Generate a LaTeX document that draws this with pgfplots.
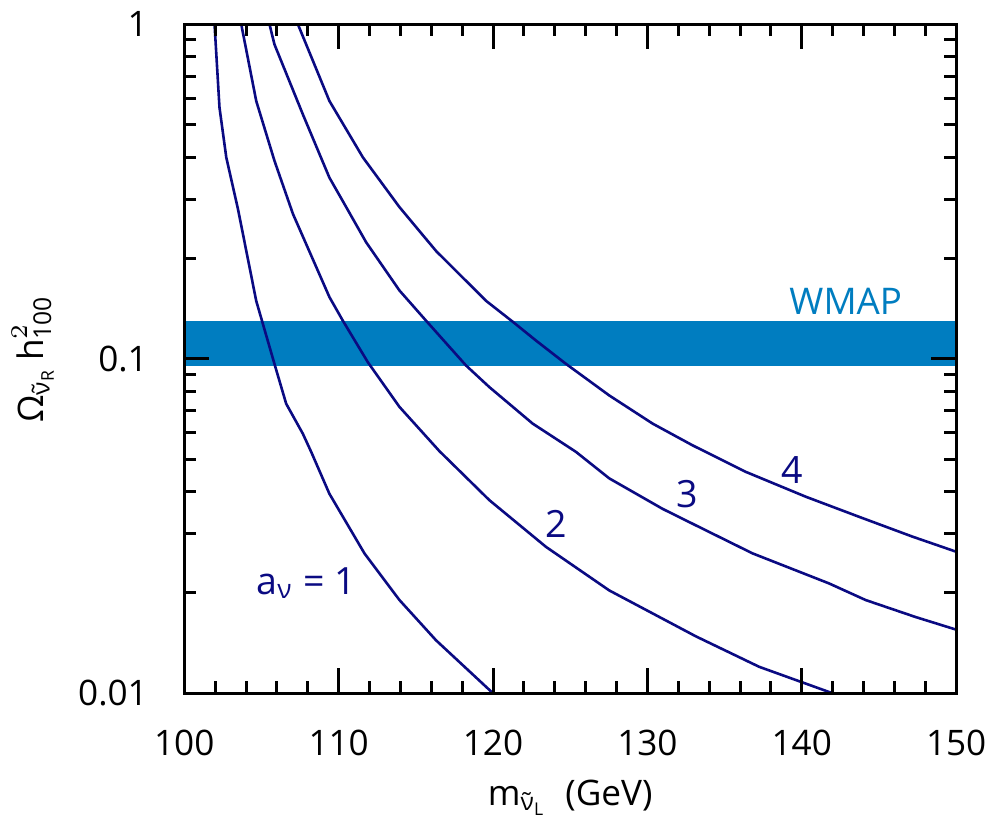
\documentclass[border=0pt]{standalone}
\usepackage{amsmath}
\usepackage{fontspec}
\setmainfont{Open Sans}
\usepackage{pgfplots}
\pgfplotsset{compat=1.18}
\definecolor{curve}{HTML}{0A0A82}
\definecolor{wmap}{HTML}{007DC0}

\begin{document}
\fontsize{8.8}{10}\selectfont
\begin{tikzpicture}
\begin{axis}[
  width=193.25pt, height=167.5pt, scale only axis,
  xmin=100, xmax=150, ymin=0.01, ymax=1,
  ymode=log,
  xtick={100,110,...,150}, xticklabels={100,110,120,130,140,150},
  minor x tick num=4,
  ytick={0.01,0.1,1}, yticklabels={0.01,0.1,1},
  minor ytick={0.02,0.03,0.04,0.05,0.06,0.07,0.08,0.09,0.2,0.3,0.4,0.5,0.6,0.7,0.8,0.9},
  tick pos=both, tick align=inside,
  major tick length=6.25pt, minor tick length=3pt,
  every tick/.style={black, line width=0.75pt},
  axis line style={line width=0.8pt},
  xticklabel shift=6pt, yticklabel shift=6pt,
  ticklabel style={font=\fontsize{8.8}{10}\selectfont},
  label style={font=\fontsize{8.8}{10}\selectfont},
  xlabel={$\text{m}_{\text{\~{ν}}_{\text{L}}}$\ \ (GeV)},
  ylabel={$\text{Ω}_{\text{\~{ν}}_{\text{R}}}\,\text{h}^{2}_{\text{100}}$},
  axis on top,
  line/.style={curve, no markers, line width=0.65pt},
]
% WMAP band
\addplot[fill=wmap, draw=none, no markers] coordinates {(100,0.095)(150,0.095)(150,0.13)(100,0.13)} -- cycle;

% a = 1
\addplot[line] coordinates {(101.96,1.0)(102.28,0.564)(102.72,0.400)(103.48,0.280)(104.66,0.149)(105.84,0.0966)(106.6,0.0734)(107.68,0.0597)(108.22,0.0527)(109.40,0.0395)(111.67,0.0262)(113.94,0.0190)(116.31,0.0144)(120.0,0.0100)};
% a = 2
\addplot[line] coordinates {(103.69,1.0)(104.66,0.590)(105.84,0.391)(107.04,0.271)(109.40,0.153)(110.27,0.130)(111.89,0.0977)(113.94,0.0718)(116.52,0.0530)(119.76,0.0378)(123.43,0.0274)(127.53,0.0203)(133.14,0.0148)(137.24,0.0120)(142.0,0.0100)};
% a = 3
\addplot[line] coordinates {(105.52,1.0)(105.84,0.871)(107.68,0.538)(109.40,0.348)(110.49,0.284)(111.78,0.223)(113.94,0.160)(115.66,0.130)(118.25,0.0955)(119.76,0.0823)(122.57,0.0640)(125.37,0.0527)(127.53,0.0439)(130.98,0.0356)(133.79,0.0307)(136.81,0.0262)(141.77,0.0213)(144.14,0.0190)(147.38,0.0169)(150,0.0155)};
% a = 4
\addplot[line] coordinates {(107.36,1.0)(109.40,0.590)(111.57,0.400)(113.94,0.284)(116.31,0.210)(119.55,0.149)(121.28,0.129)(122.78,0.1134)(124.72,0.0966)(127.53,0.0777)(130.34,0.0640)(132.93,0.0551)(136.38,0.0459)(140.26,0.0387)(143.71,0.0337)(147.17,0.0294)(150,0.0265)};

\node[curve, font=\fontsize{9.4}{10}\selectfont] at (axis cs:107.9,0.0213) {a$_{\text{ν}}$ = 1};
\node[curve, font=\fontsize{9.4}{10}\selectfont] at (axis cs:124.1,0.0322) {2};
\node[curve, font=\fontsize{9.4}{10}\selectfont] at (axis cs:132.6,0.0395) {3};
\node[curve, font=\fontsize{9.4}{10}\selectfont] at (axis cs:139.4,0.0464) {4};
\node[wmap, font=\fontsize{9.2}{10}\selectfont] at (axis cs:142.85,0.149) {WMAP};
\end{axis}
\end{tikzpicture}
\end{document}
